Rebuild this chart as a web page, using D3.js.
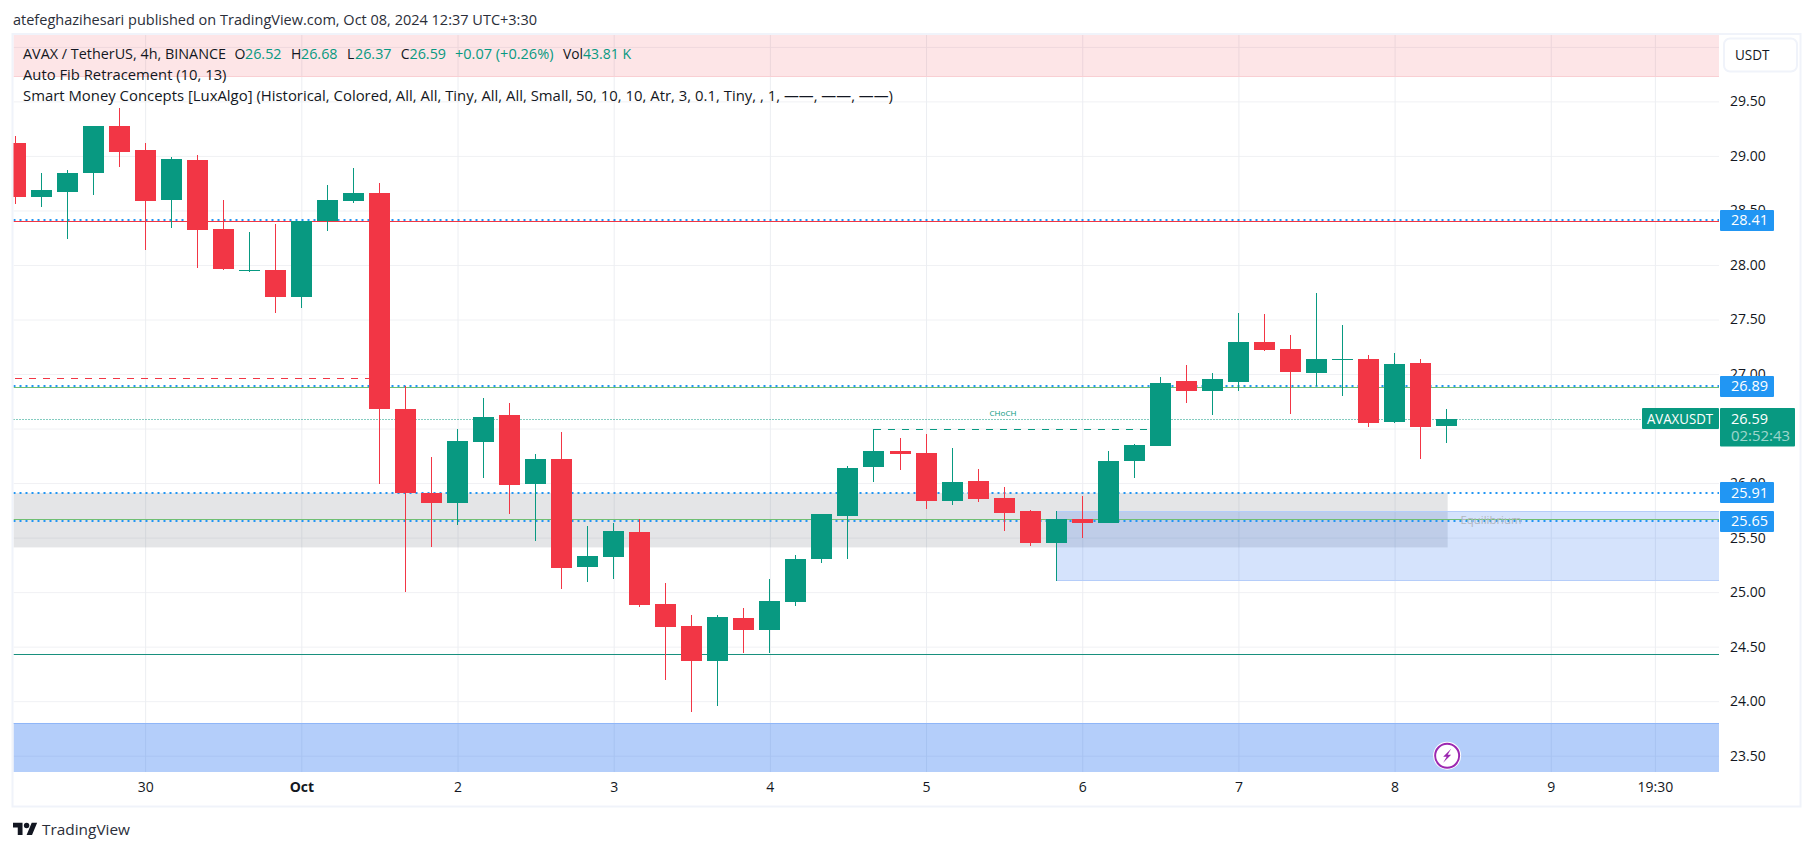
<!DOCTYPE html>
<html>
<head>
<meta charset="utf-8">
<title>AVAX / TetherUS 4h</title>
<script src="https://cdn.jsdelivr.net/npm/d3@7"></script>
<style>
html,body{margin:0;padding:0;background:#fff}
svg{display:block}
text{font-family:"Open Sans","Noto Sans",sans-serif}
</style>
</head>
<body>
<svg id="c" width="1814" height="851"></svg>
<script>
// ---- data ----
const opens  = [29.12,28.62,28.67,28.84,29.27,29.05,28.60,28.96,28.33,27.95,27.95,27.71,28.40,28.59,28.66,26.68,25.91,25.82,26.38,26.62,25.99,26.22,25.23,25.32,25.55,24.89,24.69,24.37,24.76,24.65,24.91,25.30,25.70,26.15,26.29,26.28,25.84,26.02,25.86,25.74,25.45,25.67,25.63,26.20,26.34,26.94,26.84,26.93,27.29,27.23,27.01,27.13,27.14,26.56,27.10,26.52];
const highs  = [29.18,28.84,28.87,29.27,29.44,29.12,28.99,29.01,28.60,28.30,28.38,28.40,28.73,28.89,28.75,26.89,26.24,26.50,26.78,26.73,26.27,26.47,25.61,25.63,25.67,25.08,24.79,24.79,24.85,25.12,25.34,25.72,26.16,26.50,26.41,26.45,26.32,26.13,25.96,25.75,25.74,25.88,26.29,26.36,26.97,27.08,27.01,27.56,27.55,27.36,27.74,27.45,27.17,27.19,27.14,26.68];
const lows   = [28.56,28.53,28.24,28.64,28.90,28.14,28.34,27.97,27.95,27.94,27.56,27.61,28.31,28.57,25.99,25.00,25.41,25.62,26.05,25.72,25.47,25.03,25.09,25.12,24.86,24.19,23.90,23.96,24.44,24.44,24.87,25.27,25.30,26.01,26.12,25.76,25.80,25.83,25.56,25.42,25.10,25.50,25.63,26.05,26.34,26.73,26.62,26.84,27.21,26.63,26.89,26.80,26.51,26.55,26.22,26.37];
const closes = [28.62,28.69,28.84,29.27,29.04,28.59,28.97,28.32,27.96,27.95,27.71,28.40,28.60,28.66,26.68,25.91,25.82,26.39,26.61,25.98,26.22,25.22,25.33,25.56,24.88,24.68,24.37,24.77,24.65,24.92,25.30,25.72,26.14,26.29,26.27,25.84,26.01,25.85,25.73,25.45,25.67,25.63,26.20,26.35,26.92,26.84,26.95,27.29,27.22,27.02,27.14,27.14,26.55,27.09,26.51,26.59];

const gridPrices = [30.00,29.50,29.00,28.50,28.00,27.50,27.00,26.50,26.00,25.50,25.00,24.50,24.00,23.50];
const priceTicks = [29.50,29.00,28.50,28.00,27.50,27.00,26.00,25.50,25.00,24.50,24.00,23.50];
const timeTickBars = [5,11,17,23,29,35,41,47,53,59,63];
const timeTickLabels = ["30","Oct","2","3","4","5","6","7","8","9","19:30"];

const fibLevels = [28.41,26.89,25.91,25.65];
const lastPrice = 26.59;
const countdown = "02:52:43";
const symbolName = "AVAXUSDT";
const currency = "USDT";

const redSolidLevel = 28.40;
const greenSolidLevels = [26.88,25.67];
const tealSolidLevel = 24.43;
const prevHighLevel = 26.96, prevHighEndBar = 14;
const chochLevel = 26.50, chochStartBar = 33, chochEndBar = 44, chochLabel = "CHoCH";
const greyZone = [25.91,25.41], greyZoneEndBar = 55;
const blueBox = [25.74,25.11], blueBoxStartBar = 40;
const bottomZoneTop = 23.80;
const topZoneBottom = 29.73;
const equilibriumLabel = "Equilibrium", equilibriumLevel = 25.65;

const title = "atefeghazihesari published on TradingView.com, Oct 08, 2024 12:37 UTC+3:30";
const legendName = "AVAX / TetherUS, 4h, BINANCE";
const legendFields = ["O","H","L","C"];
const legendValues = ["26.52","26.68","26.37","26.59"];
const legendChange = "+0.07 (+0.26%)";
const legendVolLabel = "Vol", legendVol = "43.81 K";
const legendFib = "Auto Fib Retracement (10, 13)";
const legendSmc = "Smart Money Concepts [LuxAlgo] (Historical, Colored, All, All, Tiny, All, All, Small, 50, 10, 10, Atr, 3, 0.1, Tiny, , 1, ——, ——, ——)";

// ---- colours ----
const UP="#089981", DOWN="#f23645", INK="#131722", BLUE="#2196f3", GRID="#f0f1f4", FRAME="#f0f3fa";

// ---- layout ----
const plot={l:13.5,r:1719,t:35,b:772};
const x=d3.scaleLinear().domain([0,55]).range([15,1446.65]);
const y=d3.scaleLinear().domain([29.5,23.5]).range([101.4,755.7]);
const snap=v=>Math.round(v);
const svg=d3.select("#c");

svg.append("defs").append("clipPath").attr("id","plotclip").append("rect")
  .attr("x",plot.l).attr("y",plot.t).attr("width",plot.r-plot.l).attr("height",plot.b-plot.t);

function txt(g,xp,yp,s,o={}){
  const t=g.append("text").attr("x",xp).attr("y",yp).text(s)
    .attr("dy","0.36em")
    .attr("font-size",o.size||14)
    .attr("fill",o.fill||INK)
    .attr("text-anchor",o.anchor||"start");
  if(o.weight)t.attr("font-weight",o.weight);
  if(o.opacity)t.attr("opacity",o.opacity);
  if(o.width)t.attr("textLength",o.width).attr("lengthAdjust","spacingAndGlyphs");
  return t;
}

// frame
svg.append("rect").attr("x",12.5).attr("y",34).attr("width",1788).attr("height",772.5)
  .attr("fill","#fff").attr("stroke",FRAME).attr("stroke-width",2);

// published line
txt(svg,13,20,title,{width:524,fill:"#2a2e39"});

const pane=svg.append("g").attr("clip-path","url(#plotclip)");

// grid, through the library axes
const gridY=pane.append("g").attr("transform",`translate(${plot.l},0)`)
  .call(d3.axisRight(y).tickValues(gridPrices).tickSize(plot.r-plot.l).tickFormat(""));
gridY.select(".domain").remove();
gridY.selectAll("line").attr("stroke",GRID).attr("stroke-width",1);
const gridX=pane.append("g").attr("transform",`translate(0,${plot.t})`)
  .call(d3.axisBottom(x).tickValues(timeTickBars).tickSize(plot.b-plot.t).tickFormat(""));
gridX.select(".domain").remove();
gridX.selectAll("line").attr("stroke","#eceef2").attr("stroke-width",1);

// zones
function zone(x0,x1,p0,p1,fill){
  return pane.append("rect").attr("x",x0).attr("width",x1-x0)
   .attr("y",p0).attr("height",p1-p0).attr("fill",fill);
}
zone(plot.l,plot.r,plot.t,y(topZoneBottom),"rgba(242,54,69,.13)");
pane.append("line").attr("x1",plot.l).attr("x2",plot.r).attr("y1",snap(y(topZoneBottom))+.5).attr("y2",snap(y(topZoneBottom))+.5).attr("stroke","#f9cfd3");
zone(plot.l,x(greyZoneEndBar)+1,y(greyZone[0]),y(greyZone[1]),"rgba(120,123,134,.2)");
zone(x(blueBoxStartBar),plot.r,y(blueBox[0]),y(blueBox[1]),"rgba(22,99,238,.18)");
[blueBox[0],blueBox[1]].forEach(p=>pane.append("line").attr("x1",x(blueBoxStartBar)).attr("x2",plot.r)
  .attr("y1",snap(y(p))+.5).attr("y2",snap(y(p))+.5).attr("stroke","#b5cdf9"));
zone(plot.l,plot.r,y(bottomZoneTop),plot.b,"rgba(34,111,240,.34)");
pane.append("line").attr("x1",plot.l).attr("x2",plot.r).attr("y1",snap(y(bottomZoneTop))+.5).attr("y2",snap(y(bottomZoneTop))+.5).attr("stroke","#8fb6f8");

// level lines
function hline(p,stroke,w,dash,x0=plot.l,x1=plot.r){
  const yy=snap(y(p))+(w%2?0.5:0);
  const l=pane.append("line").attr("x1",x0).attr("x2",x1).attr("y1",yy).attr("y2",yy)
    .attr("stroke",stroke).attr("stroke-width",w);
  if(dash)l.attr("stroke-dasharray",dash);
}
hline(redSolidLevel,DOWN,1);
greenSolidLevels.forEach(p=>hline(p,"#6fbf73",1));
hline(tealSolidLevel,"#18907e",1);
hline(prevHighLevel,DOWN,1,"7 7",x(0),x(prevHighEndBar)-10);
hline(chochLevel,UP,1,"7 7",x(chochStartBar),x(chochEndBar)-10);
fibLevels.forEach(p=>hline(p,BLUE,2,"2 4"));
hline(lastPrice,UP,1,"1 2",plot.l,1642);

// indicator labels
txt(pane,1003,413,chochLabel,{size:8,fill:UP,anchor:"middle",width:27});
txt(pane,1491,520,equilibriumLabel,{size:10,fill:"#b2b5be",anchor:"middle",width:61});

// candles
const bars=d3.range(opens.length).map(i=>({i,o:opens[i],h:highs[i],l:lows[i],c:closes[i]}));
const candle=pane.append("g").selectAll("g").data(bars).join("g")
  .attr("fill",d=>d.c>=d.o?UP:DOWN);
candle.append("rect")
  .attr("x",d=>Math.round(x(d.i)-.5)).attr("width",1)
  .attr("y",d=>snap(y(d.h))).attr("height",d=>Math.max(1,snap(y(d.l))-snap(y(d.h))));
candle.append("rect")
  .attr("x",d=>Math.round(x(d.i)-.5)-10).attr("width",21)
  .attr("y",d=>snap(y(Math.max(d.o,d.c))))
  .attr("height",d=>Math.max(1,snap(y(Math.min(d.o,d.c)))-snap(y(Math.max(d.o,d.c)))));

// flash marker on the last bar
const flash=pane.append("g").attr("transform",`translate(${x(55)+.5},${y(23.5)})`);
flash.append("circle").attr("r",14).attr("fill","#fff");
flash.append("circle").attr("r",12).attr("fill","#fff").attr("stroke","#9c27b0").attr("stroke-width",2);
flash.append("path").attr("d","M4,-7 L-4,1 L-0.5,1 L-4,7 L4,-1 L0.5,-1 Z").attr("fill","#9c27b0");

// price axis
const axY=svg.append("g").attr("transform",`translate(${plot.r},0)`)
  .call(d3.axisRight(y).tickValues(priceTicks).tickSize(0).tickPadding(11).tickFormat(d3.format(".2f")));
axY.select(".domain").remove();
axY.selectAll("text").attr("font-size",14).attr("fill",INK).attr("font-family",'"Open Sans","Noto Sans",sans-serif');

// time axis
const axX=svg.append("g").attr("transform",`translate(0,${plot.b})`)
  .call(d3.axisBottom(x).tickValues(timeTickBars).tickSize(0).tickPadding(10)
    .tickFormat((d,i)=>timeTickLabels[i]));
axX.select(".domain").remove();
axX.selectAll("text").attr("font-size",14).attr("fill",INK).attr("font-family",'"Open Sans","Noto Sans",sans-serif')
  .attr("font-weight",(d,i)=>timeTickLabels[i]==="Oct"?"bold":null);

// currency button
svg.append("rect").attr("x",1724).attr("y",38.5).attr("width",73).attr("height",33).attr("rx",6)
  .attr("fill","#fff").attr("stroke",FRAME).attr("stroke-width",2);
txt(svg,1735,55,currency,{width:34.5,fill:INK});

// level tags
fibLevels.forEach(p=>{
  const c=y(p);
  svg.append("rect").attr("x",1720).attr("y",snap(c-10.5)).attr("width",54).attr("height",21).attr("rx",1).attr("fill",BLUE);
  txt(svg,1731,c,d3.format(".2f")(p),{fill:"#fff",width:37});
});
// last price tags
const ly=y(lastPrice);
svg.append("rect").attr("x",1642).attr("y",408).attr("width",77).attr("height",21).attr("rx",1).attr("fill",UP);
txt(svg,1647,ly,symbolName,{fill:"#fff",width:66});
svg.append("rect").attr("x",1720).attr("y",408).attr("width",75).attr("height",38.5).attr("rx",1).attr("fill",UP);
txt(svg,1731,ly,d3.format(".2f")(lastPrice),{fill:"#fff",width:37});
txt(svg,1731,436,countdown,{fill:"#fff",opacity:.6,width:59});

// legend
const lg=svg.append("g");
txt(lg,23,54,legendName,{width:203,fill:INK});
const legendPos=[234.6,245,291,301,347,355,400.7,409.5];
legendFields.forEach((f,i)=>{
  txt(lg,legendPos[i*2],54,f,{fill:INK});
  txt(lg,legendPos[i*2+1],54,legendValues[i],{fill:UP,width:36.5});
});
txt(lg,455,54,legendChange,{fill:UP,width:98.5});
txt(lg,563,54,legendVolLabel,{fill:INK,width:20});
txt(lg,583,54,legendVol,{fill:UP,width:48});
txt(lg,23,74.5,legendFib,{width:203.5,fill:INK});
txt(lg,23,96,legendSmc,{width:870,fill:INK});

// footer
const logo=svg.append("g").attr("transform","translate(13,820) scale(.68)").attr("fill","#131722");
logo.append("path").attr("d","M14 22H7V11H0V4h14v18zM28 22h-8l7.5-18h8L28 22z");
logo.append("circle").attr("cx",20).attr("cy",8).attr("r",4);
txt(svg,42,830,"TradingView",{size:15,width:88,fill:"#2a2e39"});
</script>
</body>
</html>
